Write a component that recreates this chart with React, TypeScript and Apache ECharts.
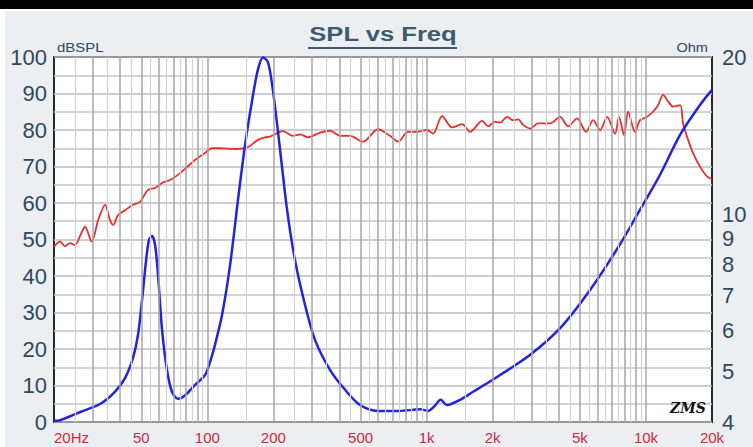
import React, { useEffect, useRef } from "react";
import * as echarts from "echarts";

// ---- data ----
const splFreq = [20, 21.3, 22.4, 23.7, 24.9, 26.8, 27.7, 29.7, 31.8, 34.2, 36, 37.2, 39.2, 42.2, 45.4, 49.3, 53.7, 57.8, 62.2, 67.6, 73.5, 80, 87.9, 97.6, 105, 114, 134, 153, 170, 183, 193, 221, 246, 265, 288, 327, 363, 403, 448, 513, 600, 681, 741, 823, 904, 1004, 1070, 1176, 1306, 1451, 1578, 1790, 1906, 2051, 2162, 2326, 2479, 2612, 2754, 2966, 3222, 3656, 4060, 4416, 4854, 5334, 5741, 6181, 6654, 7228, 7534, 7944, 8290, 8913, 9398, 10116, 10765, 11350, 11967, 12619, 13306, 14322, 14761, 15564, 16410, 17662, 19012, 20000];
const splDb = [48, 49.4, 48.2, 49, 48.5, 52.1, 53.5, 49.4, 55.3, 59.5, 55.3, 54, 56.7, 58, 59.4, 60.3, 63.6, 64.1, 65.5, 66.3, 67.7, 69.6, 71.8, 73.7, 75, 75, 74.8, 75.3, 77.3, 78, 78.2, 79.7, 78.4, 78.8, 78, 79.3, 79.8, 78.4, 78.4, 76.8, 80.2, 78.4, 76.8, 79.5, 79.5, 80, 79, 83.8, 80.7, 81.6, 79.5, 82.5, 81, 82.3, 82, 83.6, 82.7, 82.9, 81.4, 80.4, 81.8, 81.8, 83.6, 81, 83.2, 79.5, 82.7, 80, 83.6, 79, 83.6, 78.6, 85, 79.5, 82.7, 83.6, 85, 86.8, 89.6, 87.8, 86.4, 86.8, 81.8, 77.3, 73.6, 69.9, 67.2, 66.5];

const impFreq = [20, 21.3, 26.3, 32.4, 37.9, 42.2, 45.8, 48.3, 50.4, 52.5, 54.2, 56, 57.8, 59.6, 62.2, 65.5, 69, 73.5, 79.2, 87.9, 97.6, 102.9, 108.4, 116.7, 127, 138, 148.6, 160, 170, 179.5, 189, 199, 214.6, 231, 251, 279, 310, 363, 425, 497, 600, 757, 933, 1015, 1080, 1160, 1235, 1420, 1628, 1880, 2162, 2966, 4060, 5559, 7580, 9398, 11596, 14322, 17662, 20000];
const impOhm = [4.02, 4.03, 4.18, 4.33, 4.57, 4.86, 5.3, 5.87, 6.85, 8.1, 8.92, 9.08, 8.73, 7.65, 6.0, 5.03, 4.57, 4.43, 4.5, 4.71, 4.92, 5.21, 5.62, 6.41, 7.99, 10.65, 13.56, 16.5, 18.9, 19.95, 19.56, 17.3, 13.3, 10.2, 8.17, 6.7, 5.74, 5.03, 4.61, 4.31, 4.2, 4.2, 4.23, 4.2, 4.28, 4.41, 4.31, 4.41, 4.57, 4.74, 4.92, 5.38, 6.05, 7.16, 8.73, 10.2, 11.9, 14.2, 16.2, 17.3];

const freqTickLabels = [20, 50, 100, 200, 500, 1000, 2000, 5000, 10000, 20000];
const ohmTickLabels = [4, 5, 6, 7, 8, 9, 10, 20];
const decades = [10, 100, 1000];
const majorMultipliers = [3, 4, 5, 6, 7, 8, 9, 10];
const minorMultipliers = [2.5, 3.5, 4.5, 5.5, 6.5, 7.5, 8.5, 9.5];
const firstDecadeMinor = [15];

export default function App() {
  const ref = useRef<HTMLDivElement>(null);
  useEffect(() => {
    document.body.style.margin = "0";
    const chart = echarts.init(ref.current!, undefined, { renderer: "svg" });
    const majorLines: number[] = [];
    const minorLines: number[] = [];
    decades.forEach((d, i) => {
      majorMultipliers.forEach((m) => {
        const v = d * m;
        if (v > 20 && v < 20000) majorLines.push(v);
      });
      [2].forEach((m) => {
        const v = d * m;
        if (v > 20 && v < 20000) majorLines.push(v);
      });
      (i === 0 ? [] : firstDecadeMinor).forEach((m) => minorLines.push(d * m / 10));
      minorMultipliers.forEach((m) => {
        const v = d * m;
        if (v > 20 && v < 20000) minorLines.push(v);
      });
    });
    const labelFont = "Liberation Sans";
    chart.setOption({
      animation: false,
      backgroundColor: "#eceef1",
      grid: {
        left: 54,
        right: 41,
        top: 57,
        bottom: 25,
        show: true,
        backgroundColor: "#ffffff",
        borderColor: "#2a2a2a",
        borderWidth: 2,
      },
      xAxis: {
        type: "log",
        logBase: 10,
        min: 20,
        max: 20000,
        axisLine: { show: false },
        axisTick: { show: false },
        splitLine: { show: false },
        axisLabel: {
          customValues: freqTickLabels,
          color: "#cc2a3a",
          fontFamily: labelFont,
          fontSize: 15,
          margin: 8,
          alignMinLabel: "left",
          formatter: (v: number) => {
            const r = Math.round(v);
            if (r === 20) return "20Hz";
            if (r >= 1000) return r / 1000 + "k";
            return String(r);
          },
        },
      },
      yAxis: [
        {
          type: "value",
          min: 0,
          max: 100,
          interval: 10,
          axisLine: { show: false },
          axisTick: { show: false },
          axisLabel: { color: "#2c4a5e", fontFamily: labelFont, fontSize: 22, margin: 7 },
          splitLine: { show: true, lineStyle: { color: "#bdbdbd", width: 1.5 } },
          minorTick: { show: false, splitNumber: 2 },
          minorSplitLine: { show: true, lineStyle: { color: "#c4c4c4", width: 1.5 } },
        },
        {
          type: "log",
          logBase: 10,
          min: 4,
          max: 20,
          position: "right",
          axisLine: { show: false },
          axisTick: { show: false },
          splitLine: { show: false },
          axisLabel: {
            customValues: ohmTickLabels,
            color: "#2c4a5e",
            fontFamily: labelFont,
            fontSize: 22,
            margin: 10,
            formatter: (v: number) => String(Math.round(v)),
          },
        },
      ],
      graphic: [
        { type: "rect", shape: { x: 0, y: 0, width: 753, height: 9 }, style: { fill: "#000" } },
        { type: "rect", shape: { x: 0, y: 9, width: 753, height: 2 }, style: { fill: "#fff" } },
        { type: "rect", shape: { x: 0, y: 9, width: 5, height: 438 }, style: { fill: "#fff" } },
        {
          type: "text",
          x: 383,
          y: 34,
          scaleX: 1.28,
          style: {
            text: "SPL vs Freq",
            fill: "#3b5b70",
            font: "bold 20px 'Liberation Sans'",
            textAlign: "center",
            textVerticalAlign: "middle",
          },
        },
        { type: "line", shape: { x1: 308, y1: 48, x2: 457, y2: 48 }, style: { stroke: "#3b5b70", lineWidth: 2 } },
        {
          type: "text",
          x: 57,
          y: 47,
          scaleX: 1.15,
          style: { text: "dBSPL", fill: "#2c4a5e", font: "13px 'Liberation Sans'", textAlign: "left", textVerticalAlign: "middle" },
        },
        {
          type: "text",
          x: 708,
          y: 48,
          scaleX: 1.12,
          style: { text: "Ohm", fill: "#2c4a5e", font: "13px 'Liberation Sans'", textAlign: "right", textVerticalAlign: "middle" },
        },
        {
          type: "text",
          x: 688,
          y: 408,
          z: 100,
          style: { text: "ZMS", fill: "#111", font: "italic bold 14px 'DejaVu Serif'", textAlign: "center", textVerticalAlign: "middle" },
        },
      ],
      series: [
        {
          name: "grid-major",
          type: "line",
          data: [],
          silent: true,
          z: 1,
          markLine: {
            silent: true,
            symbol: ["none", "none"],
            label: { show: false },
            emphasis: { disabled: true },
            lineStyle: { color: "#a6a6a6", width: 1.5, type: "solid" },
            data: majorLines.map((v) => ({ xAxis: v })),
          },
        },
        {
          name: "grid-minor",
          type: "line",
          data: [],
          silent: true,
          z: 1,
          markLine: {
            silent: true,
            symbol: ["none", "none"],
            label: { show: false },
            emphasis: { disabled: true },
            lineStyle: { color: "#d2d2d2", width: 1.2, type: "solid" },
            data: minorLines.map((v) => ({ xAxis: v })),
          },
        },
        {
          name: "SPL",
          type: "line",
          yAxisIndex: 0,
          z: 3,
          showSymbol: false,
          smooth: 0.3,
          lineStyle: { color: "#e5302c", width: 1.8 },
          data: splFreq.map((f, i) => [f, splDb[i]]),
        },
        {
          name: "Impedance",
          type: "line",
          yAxisIndex: 1,
          z: 4,
          showSymbol: false,
          smooth: 0.3,
          lineStyle: { color: "#2323dc", width: 2.5 },
          data: impFreq.map((f, i) => [f, impOhm[i]]),
        },
      ],
    });
    return () => chart.dispose();
  }, []);
  return <div ref={ref} style={{ width: 753, height: 447, position: "absolute", left: 0, top: 0 }} />;
}
